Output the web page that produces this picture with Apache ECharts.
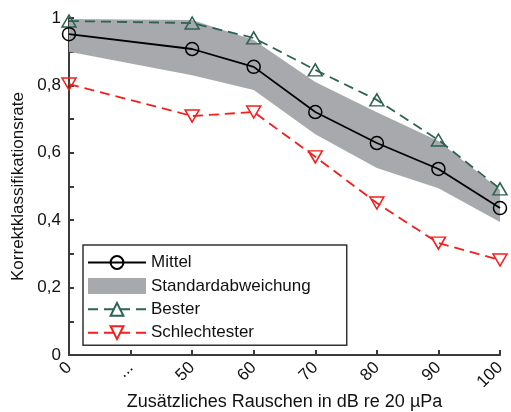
<!DOCTYPE html>
<html>
<head>
<meta charset="utf-8">
<script src="https://cdn.jsdelivr.net/npm/echarts@6/dist/echarts.min.js"></script>
<style>
  html, body { margin: 0; padding: 0; background: #fff; }
  #chart { width: 511px; height: 412px; }
</style>
</head>
<body>
<div id="chart"></div>
<script>
// x-Kategorien ('...' = Lücke ohne Messwert)
const xLabels = ['0', '...', '50', '60', '70', '80', '90', '100']
const yTickLabels = ['0', '0,2', '0,4', '0,6', '0,8', '1']

const mittel = [0.952, null, 0.908, 0.855, 0.721, 0.629, 0.552, 0.436]
const bester = [0.991, null, 0.985, 0.941, 0.846, 0.757, 0.638, 0.493]
const schlechtester = [0.804, null, 0.709, 0.721, 0.588, 0.451, 0.332, 0.282]
const stdUpper = [0.997, null, 0.994, 0.935, 0.81, 0.72, 0.635, 0.49]
const stdLower = [0.9, null, 0.83, 0.786, 0.655, 0.555, 0.495, 0.395]

const font = 'Liberation Sans, Arial, sans-serif'
const axisColor = '#3a3a3a'
const bandColor = '#a7a9ac'

const pts = (arr) => arr.map((v, i) => (v == null ? null : [i, v])).filter(Boolean)
const bandIdx = stdUpper.map((v, i) => (v == null ? null : i)).filter((i) => i != null)

const myChart = echarts.init(document.getElementById('chart'))

const options = {
  animation: false,
  textStyle: { fontFamily: font },
  grid: { left: 69, right: 11, top: 18, bottom: 57, containLabel: false, outerBoundsMode: 'none' },
  legend: {
    orient: 'vertical',
    left: 83,
    top: 245,
    itemWidth: 58,
    itemHeight: 16,
    itemGap: 6.4,
    padding: [9, 36, 4, 4],
    borderColor: '#333',
    borderWidth: 1.5,
    backgroundColor: '#fff',
    textStyle: { fontSize: 17, color: '#111', fontFamily: font },
    data: [
      { name: 'Mittel' },
      { name: 'Standardabweichung', icon: 'rect', itemStyle: { color: bandColor } },
      { name: 'Bester' },
      { name: 'Schlechtester' }
    ]
  },
  xAxis: {
    type: 'value',
    min: 0,
    max: 7,
    interval: 1,
    name: 'Zusätzliches Rauschen in dB re 20 µPa',
    nameLocation: 'middle',
    nameGap: 38,
    nameMoveOverlap: false,
    nameTextStyle: { fontSize: 18, color: '#111' },
    axisLine: { lineStyle: { color: axisColor, width: 2 } },
    axisTick: { inside: true, length: 5, lineStyle: { color: axisColor, width: 2 } },
    splitLine: { show: false },
    axisLabel: {
      rotate: 45,
      fontSize: 17,
      color: '#111',
      margin: 10,
      formatter: (v) => xLabels[v] ?? ''
    }
  },
  yAxis: {
    type: 'value',
    min: 0,
    max: 1,
    interval: 0.1,
    name: 'Korrektklassifikationsrate',
    nameLocation: 'middle',
    nameGap: 42,
    nameMoveOverlap: false,
    nameTextStyle: { fontSize: 17, color: '#111' },
    axisLine: { show: true, lineStyle: { color: axisColor, width: 2 } },
    axisTick: { inside: true, length: 5, lineStyle: { color: axisColor, width: 2 } },
    splitLine: { show: false },
    axisLabel: {
      fontSize: 17,
      color: '#111',
      formatter: (v) => {
        const k = Math.round(v * 10)
        return k % 2 === 0 ? yTickLabels[k / 2] : ''
      }
    }
  },
  series: [
    {
      name: 'Standardabweichung',
      type: 'custom',
      data: pts(stdUpper),
      silent: true,
      z: 1,
      itemStyle: { color: bandColor },
      renderItem: (params, api) => {
        if (params.dataIndex !== 0) return
        const top = bandIdx.map((i) => api.coord([i, stdUpper[i]]))
        const bottom = bandIdx.slice().reverse().map((i) => api.coord([i, stdLower[i]]))
        return {
          type: 'polygon',
          shape: { points: top.concat(bottom) },
          style: { fill: bandColor }
        }
      }
    },
    {
      name: 'Bester',
      type: 'line',
      data: pts(bester),
      symbol: 'triangle',
      symbolSize: [14, 12],
      clip: false,
      lineStyle: { color: '#2d6350', width: 1.8, type: [10, 6] },
      itemStyle: { color: 'transparent', borderColor: '#2d6350', borderWidth: 1.5 },
      z: 3
    },
    {
      name: 'Schlechtester',
      type: 'line',
      data: pts(schlechtester),
      symbol: 'triangle',
      symbolRotate: 180,
      symbolSize: [14, 12],
      clip: false,
      lineStyle: { color: '#f51d1d', width: 1.8, type: [10, 6] },
      itemStyle: { color: 'transparent', borderColor: '#f51d1d', borderWidth: 1.5 },
      z: 3
    },
    {
      name: 'Mittel',
      type: 'line',
      data: pts(mittel),
      symbol: 'circle',
      symbolSize: 13,
      clip: false,
      lineStyle: { color: '#000', width: 1.8 },
      itemStyle: { color: 'transparent', borderColor: '#000', borderWidth: 1.5 },
      z: 4
    }
  ]
}

myChart.setOption(options)
</script>
</body>
</html>
